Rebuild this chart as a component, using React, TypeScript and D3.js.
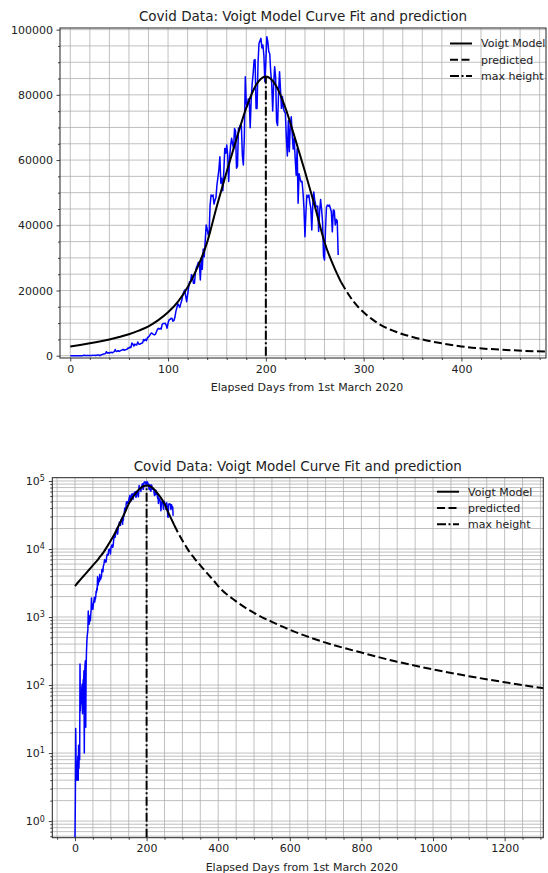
import React, { useEffect, useRef } from "react";
import * as d3 from "d3";

const title = "Covid Data: Voigt Model Curve Fit and prediction";
const xLabel = "Elapsed Days from 1st March 2020";
const legendLabels = ["Voigt Model", "predicted", "max height"];

// daily new cases, index = elapsed days from 1st March 2020
const dailyCases = [
  0, 2, 23, 8, 6, 4, 6, 5, 9, 4,
  13, 6, 13, 8, 204, 42, 60, 75, 53, 90,
  103, 38, 80, 120, 105, 162, 10, 140, 200, 227,
  24, 160, 300, 420, 520, 580,
  650, 1230, 780, 900, 790, 1000, 1050, 880, 1100, 1250,
  1900, 1300, 1390, 1550, 1300, 1480, 1620, 1760, 1950, 1660,
  1820, 1850, 1990, 2400, 2300, 2650, 2500, 3900, 3600, 2960,
  3560, 3350, 3320, 4210, 3600,
  3520, 3700, 3800, 3970, 4990, 4630, 5050, 4630, 5600, 5750,
  6090, 6650, 6980, 6770, 6530, 6390, 6540, 7250, 7950, 8380,
  8170, 8390, 8180, 9640, 9850, 9890, 9970, 9480, 8440, 9990,
  10950, 11130, 11450, 11500, 10600, 10800, 11770, 13590, 14700, 15920,
  15410, 14820, 15970, 16920, 18550, 19460, 20150, 18340, 16560, 18650,
  20900, 22720, 22770, 24850, 24250, 22200, 22250, 25600, 27100, 27760,
  28640, 28500, 23200, 29400,
  26500, 32700, 30360, 35250, 40090, 38900, 37150, 37720, 46220, 49280,
  48900, 49300, 46500, 47700, 48500, 52350, 54700, 57100, 61030, 52900,
  54400, 50600, 56300, 63580, 62100, 64600, 61500, 53400,
  60960, 64550, 66660, 65000, 63500, 69650, 68900, 57500, 58100, 69870,
  69880, 70750, 70500, 61400, 58500, 67150, 85580, 77270, 76470, 78760,
  78500, 69920, 78360,
  83340, 86430, 90630, 90800, 75800, 75810, 89700, 95740, 96550, 97330,
  94370, 95300, 92070, 84040, 90120, 97840, 96420, 93240, 92600, 86960,
  83500, 75080, 83350, 88640, 85360, 71770, 70590, 80470, 87110, 81480,
  75860, 79470, 75830, 74840, 74380, 66730, 61270, 72050, 62570, 70500,
  73270, 67680, 63370, 66730, 60520, 55340, 63500, 46730, 55840, 54370,
  53370, 53450, 50130, 45150, 36500, 43890, 49280, 48650, 49280, 46960,
  45230, 38540, 46250, 50210, 47640, 46220, 45670, 45900, 38070, 44280,
  47900, 44880, 41100, 30550, 29360, 38620, 45580, 46200, 45880, 46230,
  45210, 44060, 37980, 44700, 44490, 40090, 41810, 41320, 30900,
];

// Voigt fit over the data range
const fitDays = [0, 10, 20, 30, 40, 50, 60, 70, 80, 90, 100, 110, 120, 130, 140, 150, 160, 170, 180, 190, 200, 210, 220, 230, 240, 250, 260, 270, 277];
const fitValues = [2850, 3300, 3800, 4350, 5000, 5750, 6600, 7700, 9000, 10900, 13300, 16500, 21000, 27000, 34800, 46000, 56500, 66500, 76000, 83000, 85600, 83000, 76000, 66500, 56500, 46000, 34800, 27000, 22500];

// prediction beyond the data
const predDays = [277, 290, 300, 310, 320, 330, 340, 350, 360, 370, 380, 390, 400, 450, 500, 550, 600, 700, 800, 900, 1000, 1100, 1200, 1320];
const predValues = [22500, 16500, 13300, 10900, 9000, 7700, 6600, 5750, 5000, 4350, 3800, 3300, 2850, 1700, 1150, 850, 650, 420, 300, 220, 170, 135, 110, 88];

const peakDay = 200;
const peakValue = 85600;

const linXTicks = [0, 100, 200, 300, 400];
const linYTicks = [0, 20000, 40000, 60000, 80000, 100000];
const logXTicks = [0, 200, 400, 600, 800, 1000, 1200];
const logYTicks = [1, 10, 100, 1000, 10000, 100000];

const FONT = "DejaVu Sans, sans-serif";
const GRID = "#b0b0b0";

export default function App() {
  const ref = useRef<SVGSVGElement>(null);

  useEffect(() => {
    const svg = d3.select(ref.current);
    svg.selectAll("*").remove();

    let drawPanel = (id: string, cfg: any) => {
      const { left, right, top, bottom, x, y, xMinor, yMinor, xMajor, yMajor, isLog, legendX, legendY } = cfg;
      const g = svg.append("g");

      g.append("clipPath").attr("id", id).append("rect")
        .attr("x", left).attr("y", top).attr("width", right - left).attr("height", bottom - top);

      // grid (major + minor)
      g.append("g").selectAll("line").data([...xMinor, ...xMajor]).join("line")
        .attr("x1", (d: number) => x(d)).attr("x2", (d: number) => x(d))
        .attr("y1", top).attr("y2", bottom)
        .attr("stroke", GRID).attr("stroke-width", 0.8);
      g.append("g").selectAll("line").data([...yMinor, ...yMajor]).join("line")
        .attr("x1", left).attr("x2", right)
        .attr("y1", (d: number) => y(d)).attr("y2", (d: number) => y(d))
        .attr("stroke", GRID).attr("stroke-width", 0.8);

      const plot = g.append("g").attr("clip-path", `url(#${id})`);

      const dataLine = d3.line<number>()
        .x((d, i) => x(i))
        .y((d) => y(d));
      plot.append("path").datum(dailyCases)
        .attr("d", dataLine)
        .attr("fill", "none").attr("stroke", "#0000ff").attr("stroke-width", 1.5)
        .attr("stroke-linejoin", "round");

      const curve = d3.line<number>()
        .x((d) => x(d[0]))
        .y((d) => y(d[1]))
        .curve(d3.curveMonotoneX);

      plot.append("path").datum(fitDays.map((d, i) => [d, fitValues[i]]))
        .attr("d", curve as any)
        .attr("fill", "none").attr("stroke", "black").attr("stroke-width", 2);
      plot.append("path").datum(predDays.map((d, i) => [d, predValues[i]]))
        .attr("d", curve as any)
        .attr("fill", "none").attr("stroke", "black").attr("stroke-width", 2)
        .attr("stroke-dasharray", "8,3.5");
      plot.append("line")
        .attr("x1", x(peakDay)).attr("x2", x(peakDay))
        .attr("y1", y(isLog ? 1e-9 : 0)).attr("y2", y(peakValue))
        .attr("stroke", "black").attr("stroke-width", 2)
        .attr("stroke-dasharray", "9,2.5,2,2.5");

      // axes
      const xAxis = g.append("g").attr("transform", `translate(0,${bottom})`);
      xAxis.append("g").call(d3.axisBottom(x).tickValues(xMinor).tickSize(2).tickFormat(() => ""));
      xAxis.append("g").call(d3.axisBottom(x).tickValues(xMajor).tickSize(3.5).tickPadding(3.5).tickFormat(d3.format("d")));
      const yAxis = g.append("g").attr("transform", `translate(${left},0)`);
      yAxis.append("g").call(d3.axisLeft(y).tickValues(yMinor).tickSize(2).tickFormat(() => ""));
      const yMaj = yAxis.append("g").call(d3.axisLeft(y).tickValues(yMajor).tickSize(3.5).tickPadding(3.5).tickFormat(d3.format("d")));
      g.selectAll(".domain").remove();
      g.selectAll(".tick line").attr("stroke", "#111").attr("stroke-width", 0.8);
      g.selectAll(".tick text").attr("font-family", FONT).attr("font-size", 11).attr("fill", "#222");

      if (isLog) {
        yMaj.selectAll(".tick text").each(function (d: any) {
          const t = d3.select(this);
          t.text(null).attr("x", -7.5);
          t.append("tspan").text("10");
          t.append("tspan").attr("dy", "-0.45em").attr("font-size", 8).text(String(Math.round(Math.log10(d))));
        });
      }

      g.append("rect")
        .attr("x", left).attr("y", top).attr("width", right - left).attr("height", bottom - top)
        .attr("fill", "none").attr("stroke", "#222").attr("stroke-width", 1);

      g.append("text")
        .attr("x", (left + right) / 2).attr("y", top - 7)
        .attr("text-anchor", "middle").attr("font-family", FONT).attr("font-size", 13.5).attr("fill", "#222")
        .text(title);
      g.append("text")
        .attr("x", (left + right) / 2 + 4).attr("y", bottom + 33)
        .attr("text-anchor", "middle").attr("font-family", FONT).attr("font-size", 11).attr("fill", "#222")
        .text(xLabel);

      const dashes = [null, "8,3.5", "9,2.5,2,2.5"];
      legendLabels.forEach((label, i) => {
        const ly = legendY + i * 16.3;
        g.append("line")
          .attr("x1", legendX).attr("x2", legendX + 22).attr("y1", ly).attr("y2", ly)
          .attr("stroke", "black").attr("stroke-width", 2)
          .attr("stroke-dasharray", dashes[i]);
        g.append("text")
          .attr("x", legendX + 31).attr("y", ly).attr("dy", "0.35em")
          .attr("font-family", FONT).attr("font-size", 11).attr("fill", "#222")
          .text(label);
      });
    };

    // top: linear
    const top1 = { left: 60, right: 546, top: 28, bottom: 358 };
    const x1 = d3.scaleLinear().domain([-10.5, 486.5]).range([top1.left, top1.right]);
    const y1 = d3.scaleLinear().domain([-700, 100500]).range([top1.bottom, top1.top]);
    drawPanel("clipTop", {
      ...top1, x: x1, y: y1,
      xMajor: linXTicks, yMajor: linYTicks,
      xMinor: d3.range(0, 481, 20).filter((v) => v % 100 !== 0),
      yMinor: d3.range(0, 100001, 5000).filter((v) => v % 20000 !== 0),
      isLog: false, legendX: 450, legendY: 43.5,
    });

    // bottom: log
    const top2 = { left: 52.3, right: 543.3, top: 477.7, bottom: 837.7 };
    const x2 = d3.scaleLinear().domain([-63.4, 1308]).range([top2.left, top2.right]);
    const y2 = d3.scaleLog().domain([0.57, 111700]).range([top2.bottom, top2.top]).clamp(true);
    const logMinor: number[] = [];
    for (let e = -1; e <= 5; e++) {
      for (let k = 2; k <= 9; k++) {
        const v = k * Math.pow(10, e);
        if (v > 0.57 && v < 111700) logMinor.push(v);
      }
    }
    drawPanel("clipBottom", {
      ...top2, x: x2, y: y2,
      xMajor: logXTicks, yMajor: logYTicks,
      xMinor: d3.range(-50, 1301, 50).filter((v) => v % 200 !== 0),
      yMinor: logMinor,
      isLog: true, legendX: 437, legendY: 491.7,
    });
  }, []);

  return (
    <svg
      ref={ref}
      width={548}
      height={873}
      style={{ position: "absolute", left: 0, top: 0, background: "white" }}
    />
  );
}
